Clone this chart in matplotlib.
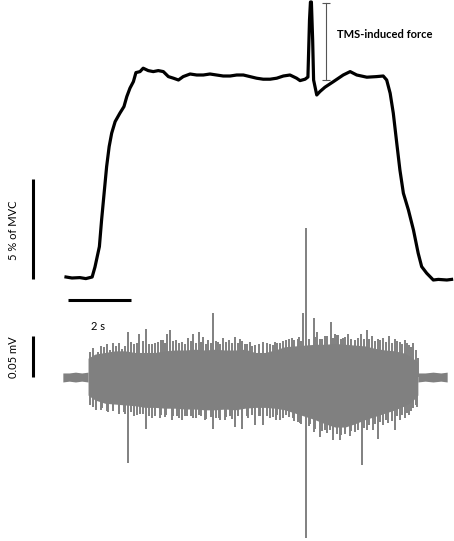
import matplotlib
matplotlib.use("Agg")
import matplotlib.pyplot as plt
import numpy as np

# force trace: time (s) vs force above baseline (% of MVC)
force_t = [0.00, 0.19, 0.44, 0.63, 0.83, 0.92, 1.06, 1.13, 1.21, 1.29, 1.37, 1.45, 1.56, 1.71,
           1.84, 1.93, 2.03, 2.14, 2.22, 2.35, 2.45, 2.61, 2.77, 2.93, 3.09, 3.25, 3.41, 3.57,
           3.72, 3.94, 4.15, 4.36, 4.57, 4.78, 4.99, 5.21, 5.42, 5.63, 5.84, 6.05, 6.26, 6.48,
           6.69, 6.90, 7.11, 7.32, 7.43, 7.59, 7.68, 7.73, 7.76, 7.79, 7.83, 7.86, 7.96, 8.06,
           8.22, 8.49, 8.80, 9.02, 9.23, 9.55, 9.86, 10.07, 10.18, 10.29, 10.39, 10.50, 10.60,
           10.71, 10.87, 11.03, 11.18, 11.29, 11.45, 11.66, 11.82, 12.09, 12.24]
force_v = [0.00, -0.05, -0.03, -0.08, 0.00, 0.50, 1.52, 2.85, 4.19, 5.52, 6.52, 7.19, 7.77, 8.19,
           8.52, 9.02, 9.44, 9.77, 10.22, 10.27, 10.44, 10.32, 10.27, 10.32, 10.27, 10.02, 9.94, 9.85,
           10.02, 10.15, 10.10, 10.10, 10.15, 10.10, 10.05, 10.05, 10.10, 10.10, 10.02, 9.94, 9.89, 9.89,
           9.94, 10.05, 10.10, 9.94, 9.82, 9.89, 10.00, 12.85, 13.75, 13.75, 11.85, 9.85, 9.10, 9.27,
           9.49, 9.77, 10.10, 10.27, 10.10, 9.99, 10.02, 10.05, 9.85, 9.19, 8.19, 6.69, 5.35,
           4.19, 3.35, 2.35, 1.19, 0.52, 0.19, -0.15, -0.12, -0.15, -0.12]

# EMG (mV): envelope of the dense burst
emg_t = [0.70, 0.92, 1.24, 1.56, 1.87, 2.19, 2.51, 2.83, 3.14, 3.46, 3.78, 4.10, 4.41, 4.73,
         5.05, 5.37, 5.68, 6.00, 6.32, 6.63, 6.95, 7.27, 7.59, 7.90, 8.22, 8.54, 8.86, 9.17,
         9.49, 9.81, 10.13, 10.44, 10.76, 10.98, 11.17]
emg_up = [0.023, 0.028, 0.030, 0.032, 0.032, 0.030, 0.030, 0.030, 0.032, 0.033, 0.033, 0.034, 0.033, 0.034,
          0.033, 0.033, 0.034, 0.030, 0.030, 0.033, 0.037, 0.038, 0.039, 0.040, 0.040, 0.041, 0.040, 0.039,
          0.038, 0.035, 0.033, 0.032, 0.029, 0.024, 0.018]
emg_low = [-0.022, -0.028, -0.032, -0.033, -0.034, -0.035, -0.037, -0.037, -0.038, -0.038, -0.039, -0.039,
           -0.040, -0.040, -0.039, -0.040, -0.038, -0.037, -0.037, -0.038, -0.040, -0.044, -0.048, -0.052,
           -0.057, -0.061, -0.061, -0.057, -0.052, -0.048, -0.044, -0.040, -0.035, -0.030, -0.022]

# EMG spikes above / below the envelope
up_t = [0.76, 1.03, 1.21, 1.40, 1.59, 1.77, 1.98, 2.16, 2.33, 2.54, 2.73, 2.92, 3.08, 3.22, 3.30,
        3.49, 3.68, 3.87, 4.04, 4.23, 4.36, 4.51, 4.68, 4.83, 4.98, 5.17, 5.37, 5.52, 5.68, 5.84,
        6.00, 6.26, 6.48, 6.63, 6.79, 6.98, 7.17, 7.41, 7.53, 7.86, 7.97, 8.06, 8.22, 8.40, 8.54,
        8.64, 8.79, 8.95, 9.17, 9.37, 9.55, 9.71, 9.89, 10.06, 10.25, 10.44, 10.60, 10.76, 10.89,
        11.03, 11.17]
up_v = [0.030, 0.030, 0.037, 0.033, 0.038, 0.034, 0.055, 0.040, 0.053, 0.059, 0.040, 0.043, 0.045, 0.053, 0.057,
        0.045, 0.043, 0.048, 0.053, 0.055, 0.049, 0.045, 0.078, 0.043, 0.048, 0.045, 0.049, 0.047, 0.040, 0.043,
        0.039, 0.043, 0.040, 0.043, 0.041, 0.045, 0.048, 0.049, 0.078, 0.072, 0.055, 0.047, 0.050, 0.067, 0.052,
        0.051, 0.048, 0.052, 0.045, 0.052, 0.057, 0.050, 0.047, 0.048, 0.050, 0.047, 0.043, 0.045, 0.039,
        0.041, 0.023]
down_t = [0.76, 0.95, 1.14, 1.33, 1.50, 1.68, 1.84, 1.98, 2.16, 2.35, 2.54, 2.73, 2.98, 3.17, 3.37,
          3.52, 3.67, 3.84, 4.03, 4.22, 4.41, 4.68, 4.86, 5.05, 5.21, 5.37, 5.58, 5.78, 6.00, 6.16,
          6.26, 6.48, 6.67, 6.79, 6.98, 7.22, 7.43, 7.75, 7.86, 8.06, 8.22, 8.38, 8.49, 8.70, 8.86,
          9.02, 9.17, 9.39, 9.56, 9.76, 9.92, 10.06, 10.23, 10.44, 10.60, 10.76, 10.89, 11.03, 11.14]
down_v = [-0.034, -0.040, -0.038, -0.043, -0.038, -0.045, -0.043, -0.105, -0.048, -0.045, -0.063, -0.050,
          -0.050, -0.046, -0.052, -0.048, -0.052, -0.048, -0.050, -0.046, -0.052, -0.063, -0.050, -0.052,
          -0.048, -0.061, -0.063, -0.050, -0.059, -0.048, -0.059, -0.050, -0.052, -0.052, -0.046, -0.050,
          -0.056, -0.057, -0.067, -0.073, -0.065, -0.065, -0.077, -0.077, -0.067, -0.072, -0.067, -0.107,
          -0.065, -0.065, -0.075, -0.059, -0.056, -0.065, -0.052, -0.050, -0.046, -0.038, -0.036]

# smaller deflections that make the ragged edge of the burst
minor_t = [0.85, 1.12, 1.31, 1.50, 1.68, 1.88, 2.07, 2.25, 2.44, 2.63, 2.83, 3.00, 3.15, 3.40, 3.58,
           3.78, 3.96, 4.14, 4.30, 4.44, 4.60, 4.76, 4.90, 5.08, 5.27, 5.45, 5.60, 5.76, 5.92, 6.13,
           6.37, 6.56, 6.71, 6.88, 7.07, 7.25, 7.35, 7.47, 7.70, 7.92, 8.12, 8.30, 8.47, 8.59, 8.72,
           8.87, 9.05, 9.27, 9.46, 9.63, 9.80, 9.98, 10.15, 10.34, 10.52, 10.68, 10.83, 10.96, 11.10]
minor_up = [0.036, 0.038, 0.040, 0.041, 0.042, 0.038, 0.043, 0.041, 0.044, 0.040, 0.042, 0.045, 0.041, 0.044,
            0.042, 0.040, 0.044, 0.041, 0.043, 0.040, 0.042, 0.044, 0.040, 0.043, 0.041, 0.042, 0.044, 0.040,
            0.038, 0.040, 0.041, 0.039, 0.042, 0.044, 0.046, 0.045, 0.047, 0.044, 0.046, 0.049, 0.047, 0.050,
            0.048, 0.051, 0.047, 0.049, 0.046, 0.048, 0.046, 0.047, 0.044, 0.045, 0.043, 0.042, 0.044, 0.040,
            0.042, 0.037, 0.033]
minor_down = [-0.036, -0.040, -0.042, -0.041, -0.044, -0.045, -0.043, -0.046, -0.045, -0.048, -0.047, -0.046,
              -0.049, -0.047, -0.050, -0.048, -0.047, -0.050, -0.048, -0.051, -0.049, -0.050, -0.052, -0.049,
              -0.051, -0.048, -0.050, -0.047, -0.046, -0.048, -0.047, -0.049, -0.046, -0.050, -0.049, -0.053,
              -0.055, -0.057, -0.060, -0.063, -0.066, -0.068, -0.070, -0.069, -0.071, -0.070, -0.066, -0.064,
              -0.062, -0.059, -0.057, -0.055, -0.052, -0.053, -0.048, -0.046, -0.044, -0.041, -0.034]

# TMS artefact in the EMG
tms_t = 7.62
tms_top, tms_bottom = 0.182, -0.196

# resting EMG before and after the contraction
rest_pre_t = [-0.10, 0.10, 0.30, 0.50, 0.70]
rest_post_t = [11.17, 11.40, 11.65, 11.90, 12.10]
rest_up = [0.005, 0.005, 0.006, 0.005, 0.006]
rest_low = [-0.006, -0.005, -0.006, -0.005, -0.006]

fig = plt.figure(figsize=(4.54, 5.41), dpi=100)
ax_f = fig.add_axes([0, 0, 1, 1])
ax_e = fig.add_axes([0, 0, 1, 1])
for ax in (ax_f, ax_e):
    ax.set_xlim(-2.095, 12.317)
    ax.axis('off')
    ax.patch.set_alpha(0)
ax_f.set_ylim(-13.2, 13.85)
ax_e.set_ylim(-0.2, 0.46)

font = 'Lato'
grey = '#808080'

# force
ax_f.plot(force_t, force_v, color='black', lw=2.3, solid_joinstyle='round')
ax_f.plot([8.25, 8.25], [9.85, 13.7], color='#555555', lw=0.8, marker='_', ms=6, mew=0.8)
ax_f.text(8.6, 12.1, 'TMS-induced force', fontsize=8, fontweight='bold', family=font,
          ha='left', va='center')

# scale bars
ax_f.plot([-1.05, -1.05], [-0.1, 4.9], color='black', lw=2.2, solid_capstyle='butt')
ax_f.text(-1.68, 2.35, '5 % of MVC', rotation=90, fontsize=8, family=font, ha='center', va='center')
ax_f.plot([0.06, 2.06], [-1.15, -1.15], color='black', lw=2.2, solid_capstyle='butt')
ax_f.text(1.02, -2.5, '2 s', fontsize=8, family=font, ha='center', va='center')
ax_e.plot([-1.05, -1.05], [0.0, 0.05], color='black', lw=2.2, solid_capstyle='butt')
ax_e.text(-1.68, 0.024, '0.05 mV', rotation=90, fontsize=8, family=font, ha='center', va='center')

# EMG
ax_e.fill_between(rest_pre_t, rest_low, rest_up, color=grey, lw=0)
ax_e.fill_between(rest_post_t, rest_low, rest_up, color=grey, lw=0)
ax_e.fill_between(emg_t, emg_low, emg_up, color=grey, lw=0)
ax_e.vlines(minor_t, minor_down, minor_up, color=grey, lw=1.4)
ax_e.vlines(up_t, 0, up_v, color=grey, lw=1.4)
ax_e.vlines(down_t, down_v, 0, color=grey, lw=1.4)
ax_e.vlines([tms_t], tms_bottom, tms_top, color=grey, lw=1.4)

fig.savefig('out.png', dpi=100)
